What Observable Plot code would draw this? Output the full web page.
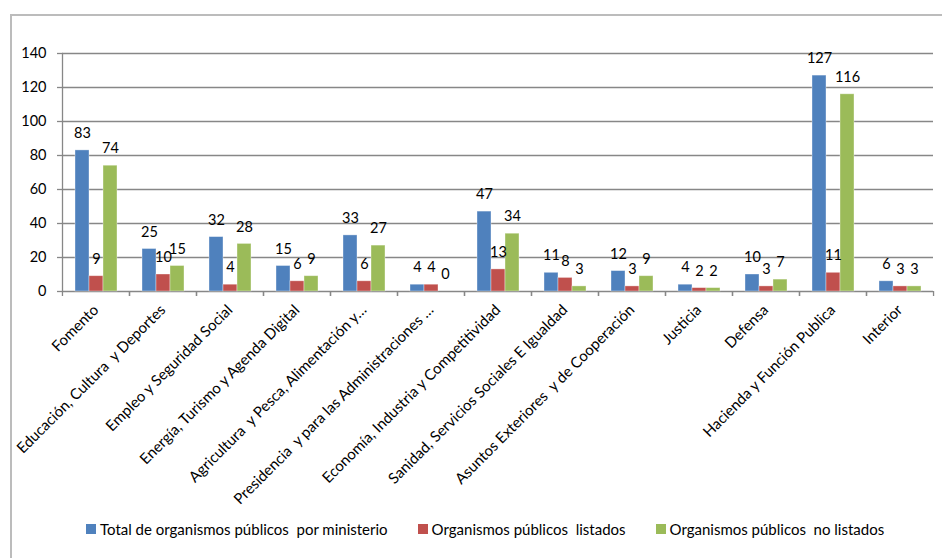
<!DOCTYPE html>
<html>
<head>
<meta charset="utf-8">
<script src="https://cdn.jsdelivr.net/npm/d3@7"></script>
<script src="https://cdn.jsdelivr.net/npm/@observablehq/plot@0.6"></script>
<style>
  html, body { margin: 0; padding: 0; background: #fff; }
  #wrap { position: relative; width: 942px; height: 558px; overflow: hidden; font-family: Lato, "Open Sans", sans-serif; }
  #frame { position: absolute; left: 10px; top: 14px; width: 960px; height: 600px; border: 2px solid #bcbcbc; box-sizing: border-box; }
  #chart { position: absolute; left: 0; top: 0; }
  #chart svg text { white-space: pre; }
  #legend { position: absolute; left: 86px; top: 520px; display: flex; gap: 30px; font-size: 15px; color: #000; white-space: pre; }
  #legend .item { display: flex; align-items: center; }
  #legend .sw { width: 10px; height: 10px; margin-right: 4px; }
</style>
</head>
<body>
<div id="wrap">
  <div id="frame"></div>
  <div id="chart"></div>
  <div id="legend"></div>
</div>
<script>
const categories = [
  "Fomento",
  "Educación, Cultura  y Deportes",
  "Empleo y Seguridad Social",
  "Energía, Turismo y Agenda Digital",
  "Agricultura  y Pesca, Alimentación y…",
  "Presidencia  y para las Administraciones …",
  "Economía, Industria y Competitividad",
  "Sanidad, Servicios Sociales E Igualdad",
  "Asuntos Exteriores  y de Cooperación",
  "Justicia",
  "Defensa",
  "Hacienda y Función Publica",
  "Interior"
];
const totalPorMinisterio = [83, 25, 32, 15, 33, 4, 47, 11, 12, 4, 10, 127, 6];
const listados = [9, 10, 4, 6, 6, 4, 13, 8, 3, 2, 3, 11, 3];
const noListados = [74, 15, 28, 9, 27, 0, 34, 3, 9, 2, 7, 116, 3];
const seriesNames = [
  "Total de organismos públicos  por ministerio",
  "Organismos públicos  listados",
  "Organismos públicos  no listados"
];
const seriesColors = ["#4F81BD", "#C0504D", "#9BBB59"];
const yTicks = [0, 20, 40, 60, 80, 100, 120, 140];

const seriesValues = [totalPorMinisterio, listados, noListados];
const rows = categories.flatMap((c, i) =>
  seriesNames.map((s, k) => ({cat: c, s, v: seriesValues[k][i]}))
);

const W = 942, H = 515;
const mL = 61, mR = 9, mT = 53, mB = H - 291;
const step = (W - mL - mR) / categories.length;
const grey = "#878787";

const chart = Plot.plot({
  width: W,
  height: H,
  marginLeft: mL,
  marginRight: mR,
  marginTop: mT,
  marginBottom: mB,
  style: {fontFamily: "Lato, 'Open Sans', sans-serif", fontSize: "14px", color: "#000", background: "transparent"},
  fx: {domain: categories, padding: 0, label: null},
  x: {domain: seriesNames, paddingInner: 0, paddingOuter: 0.736, axis: null},
  y: {domain: [0, 140], label: null},
  color: {domain: seriesNames, range: seriesColors},
  marks: [
    Plot.gridY(yTicks, {stroke: grey, strokeOpacity: 1, strokeWidth: 1.3}),
    Plot.barY(rows, {fx: "cat", x: "s", y: "v", fill: "s", stroke: "#ffffff", strokeOpacity: 0.45, strokeWidth: 0.8}),
    Plot.text(rows, {fx: "cat", x: "s", y: "v", text: d => String(d.v), dy: -17, fontSize: 14.5, fill: "#000"}),
    Plot.frame({anchor: "left", facetAnchor: "left", stroke: grey, strokeWidth: 1.3}),
    Plot.axisY(yTicks, {tickSize: 5, tickPadding: 11, stroke: grey, strokeWidth: 1.3, fontSize: 14.5, label: null, fill: "#000"}),
    Plot.axisFx({anchor: "bottom", tickSize: 5, tickFormat: () => "", dx: -step / 2, stroke: grey, strokeWidth: 1.3, label: null}),
    Plot.axisFx({anchor: "bottom", tickSize: 5, tickFormat: () => "", dx: step / 2, stroke: grey, strokeWidth: 1.3, label: null}),
    Plot.axisFx({anchor: "bottom", tickSize: 0, tickPadding: 16, tickRotate: -45, fontSize: 15, label: null, fill: "#000"})
  ]
});
document.getElementById("chart").appendChild(chart);

const legend = document.getElementById("legend");
seriesNames.forEach((name, k) => {
  const item = document.createElement("div");
  item.className = "item";
  const sw = document.createElement("span");
  sw.className = "sw";
  sw.style.background = seriesColors[k];
  const label = document.createElement("span");
  label.textContent = name;
  item.appendChild(sw);
  item.appendChild(label);
  legend.appendChild(item);
});
</script>
</body>
</html>
